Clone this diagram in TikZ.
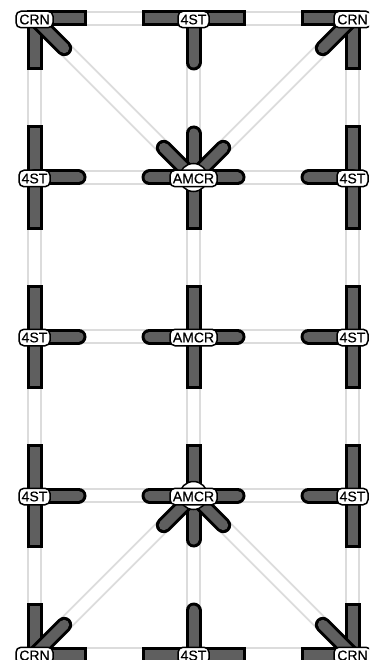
\documentclass[tikz,border=0pt]{standalone}
\usepackage{fontspec}
\setmainfont{Liberation Sans}[FakeBold=0.5]
\usetikzlibrary{calc,backgrounds}

\definecolor{linkgray}{HTML}{DCDCDC}
\definecolor{armgray}{HTML}{5F5F5F}

\tikzset{
    station/.style={inner sep=0pt, minimum size=0pt},
    tag/.style={draw=black, line width=1.5pt, fill=white, rounded corners=5pt, inner sep=0pt, minimum height=16.5pt, yshift=-1pt, font=\fontsize{14}{14}\selectfont},
    hub/.style={circle, draw=black, line width=1.5pt, fill=white, minimum size=28pt, inner sep=0pt},
    link/.style={draw=linkgray, line width=2pt, double=white, double distance=11pt},
    armflat/.style={draw=black, line width=3pt, double=armgray, double distance=10pt, line cap=rect},
    armround/.style={draw=black, line width=3pt, double=armgray, double distance=10pt, line cap=round},
}

% Arms start at the station and stop part way along the track
\newcommand{\flatarm}[2]{\draw[armflat] (#1) -- ($(#1)!44pt!(#2)$);}
\newcommand{\roundarm}[2]{\draw[armround] (#1) -- ($(#1)!44pt!(#2)$);}
\newcommand{\diagarm}[2]{\draw[armround] (#1) -- ($(#1)!42pt!(#2)$);}

\begin{document}
\begin{tikzpicture}[x=1pt, y=-1pt]
    \clip (0,0) rectangle (369,660);

    % Hubs behind the two busy crossings
    \node[hub] (hubB) at (193.5,177.5) {};
    \node[hub] (hubD) at (193.5,495.5) {};

    % Stations
    \node[station, label={[tag, minimum width=37pt]center:CRN}] (a1) at (34.5,18.5) {};
    \node[station, label={[tag, minimum width=31pt]center:4ST}] (a2) at (193.5,18.5) {};
    \node[station, label={[tag, minimum width=37pt]center:CRN}] (a3) at (352.5,18.5) {};
    \node[station, label={[tag, minimum width=31pt]center:4ST}] (b1) at (34.5,177.5) {};
    \node[station, label={[tag, minimum width=47pt]center:AMCR}] (b2) at (193.5,177.5) {};
    \node[station, label={[tag, minimum width=31pt]center:4ST}] (b3) at (352.5,177.5) {};
    \node[station, label={[tag, minimum width=31pt]center:4ST}] (c1) at (34.5,336.5) {};
    \node[station, label={[tag, minimum width=47pt]center:AMCR}] (c2) at (193.5,336.5) {};
    \node[station, label={[tag, minimum width=31pt]center:4ST}] (c3) at (352.5,336.5) {};
    \node[station, label={[tag, minimum width=31pt]center:4ST}] (d1) at (34.5,495.5) {};
    \node[station, label={[tag, minimum width=47pt]center:AMCR}] (d2) at (193.5,495.5) {};
    \node[station, label={[tag, minimum width=31pt]center:4ST}] (d3) at (352.5,495.5) {};
    \node[station, label={[tag, minimum width=37pt]center:CRN}] (e1) at (34.5,654.5) {};
    \node[station, label={[tag, minimum width=31pt]center:4ST}] (e2) at (193.5,654.5) {};
    \node[station, label={[tag, minimum width=37pt]center:CRN}] (e3) at (352.5,654.5) {};

    \begin{pgfonlayer}{background}
        % Tracks
        \draw[link] (a1) -- (a2);
        \draw[link] (a2) -- (a3);
        \draw[link] (b1) -- (b2);
        \draw[link] (b2) -- (b3);
        \draw[link] (c1) -- (c2);
        \draw[link] (c2) -- (c3);
        \draw[link] (d1) -- (d2);
        \draw[link] (d2) -- (d3);
        \draw[link] (e1) -- (e2);
        \draw[link] (e2) -- (e3);
        \draw[link] (a1) -- (b1);
        \draw[link] (b1) -- (c1);
        \draw[link] (c1) -- (d1);
        \draw[link] (d1) -- (e1);
        \draw[link] (a2) -- (b2);
        \draw[link] (b2) -- (c2);
        \draw[link] (c2) -- (d2);
        \draw[link] (d2) -- (e2);
        \draw[link] (a3) -- (b3);
        \draw[link] (b3) -- (c3);
        \draw[link] (c3) -- (d3);
        \draw[link] (d3) -- (e3);
        \draw[link] (a1) -- (b2);
        \draw[link] (a3) -- (b2);
        \draw[link] (e1) -- (d2);
        \draw[link] (e3) -- (d2);

        % Top row
        \flatarm{a1}{a2} \flatarm{a1}{b1} \diagarm{a1}{b2}
        \flatarm{a2}{a1} \flatarm{a2}{a3} \roundarm{a2}{b2}
        \flatarm{a3}{a2} \flatarm{a3}{b3} \diagarm{a3}{b2}

        % Second row
        \flatarm{b1}{a1} \flatarm{b1}{c1} \roundarm{b1}{b2}
        \roundarm{b2}{a2} \flatarm{b2}{c2} \roundarm{b2}{b1} \roundarm{b2}{b3}
        \diagarm{b2}{a1} \diagarm{b2}{a3}
        \flatarm{b3}{a3} \flatarm{b3}{c3} \roundarm{b3}{b2}

        % Third row
        \flatarm{c1}{b1} \flatarm{c1}{d1} \roundarm{c1}{c2}
        \flatarm{c2}{b2} \flatarm{c2}{d2} \roundarm{c2}{c1} \roundarm{c2}{c3}
        \flatarm{c3}{b3} \flatarm{c3}{d3} \roundarm{c3}{c2}

        % Fourth row
        \flatarm{d1}{c1} \flatarm{d1}{e1} \roundarm{d1}{d2}
        \flatarm{d2}{c2} \roundarm{d2}{e2} \roundarm{d2}{d1} \roundarm{d2}{d3}
        \diagarm{d2}{e1} \diagarm{d2}{e3}
        \flatarm{d3}{c3} \flatarm{d3}{e3} \roundarm{d3}{d2}

        % Bottom row
        \flatarm{e1}{d1} \flatarm{e1}{e2} \diagarm{e1}{d2}
        \flatarm{e2}{e1} \flatarm{e2}{e3} \roundarm{e2}{d2}
        \flatarm{e3}{d3} \flatarm{e3}{e2} \diagarm{e3}{d2}
    \end{pgfonlayer}
\end{tikzpicture}
\end{document}
